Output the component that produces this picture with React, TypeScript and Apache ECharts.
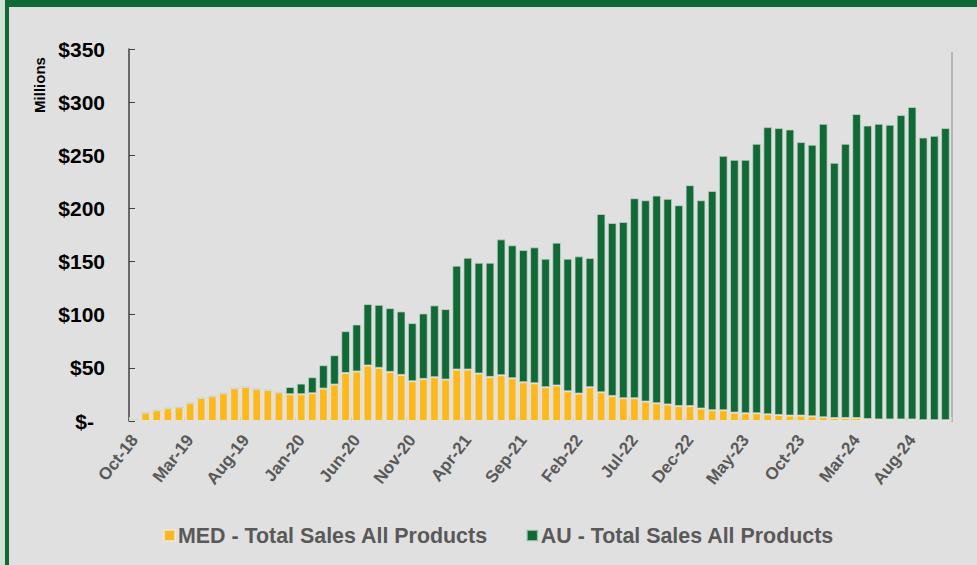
import React, { useEffect, useRef } from "react";
import * as echarts from "echarts";

const months: string[] = [
  "Oct-18", "Nov-18", "Dec-18",
  "Jan-19", "Feb-19", "Mar-19", "Apr-19", "May-19", "Jun-19", "Jul-19", "Aug-19", "Sep-19", "Oct-19", "Nov-19", "Dec-19",
  "Jan-20", "Feb-20", "Mar-20", "Apr-20", "May-20", "Jun-20", "Jul-20", "Aug-20", "Sep-20", "Oct-20", "Nov-20", "Dec-20",
  "Jan-21", "Feb-21", "Mar-21", "Apr-21", "May-21", "Jun-21", "Jul-21", "Aug-21", "Sep-21", "Oct-21", "Nov-21", "Dec-21",
  "Jan-22", "Feb-22", "Mar-22", "Apr-22", "May-22", "Jun-22", "Jul-22", "Aug-22", "Sep-22", "Oct-22", "Nov-22", "Dec-22",
  "Jan-23", "Feb-23", "Mar-23", "Apr-23", "May-23", "Jun-23", "Jul-23", "Aug-23", "Sep-23", "Oct-23", "Nov-23", "Dec-23",
  "Jan-24", "Feb-24", "Mar-24", "Apr-24", "May-24", "Jun-24", "Jul-24", "Aug-24", "Sep-24", "Oct-24", "Nov-24",
];

// MED - Total Sales All Products (millions)
const medSales: number[] = [
  1.2, 7.9, 10.1, 12.0, 12.9, 17.0, 21.7, 23.3, 26.1, 30.8, 32.0, 30.2, 29.2, 27.0, 25.2,
  25.2, 26.1, 30.5, 34.3, 45.2, 46.6, 52.2, 50.0, 46.2, 43.4, 37.4, 39.6,
  41.2, 39.0, 48.4, 48.4, 44.7, 41.5, 43.1, 40.2, 36.5, 35.5, 31.8, 33.4,
  28.0, 25.8, 31.8, 27.0, 23.6, 21.4, 21.4, 18.3, 16.7, 15.5, 14.0, 14.0,
  11.7, 10.1, 10.1, 7.9, 7.3, 7.3, 6.3, 5.7, 5.1, 5.1, 4.4, 3.5,
  2.8, 2.8, 2.8, 1.9, 1.5, 1.5, 1.5, 1.5, 0.8, 0.8, 0.8,
];

// AU - Total Sales All Products (millions)
const auSales: number[] = [
  0, 0, 0, 0, 0, 0, 0, 0, 0, 0, 0, 0, 0, 0, 6.8,
  10.0, 15.1, 22.0, 27.6, 39.3, 44.2, 57.8, 59.3, 60.0, 59.7, 54.7, 61.6,
  67.6, 66.3, 97.7, 105.2, 104.2, 107.4, 127.8, 125.1, 124.4, 127.9, 120.9, 134.4,
  124.7, 129.1, 121.5, 167.8, 162.7, 165.9, 188.2, 189.4, 195.4, 193.5, 189.0, 207.9,
  196.0, 206.4, 239.4, 237.8, 238.4, 253.5, 270.2, 269.9, 269.2, 257.3, 255.5, 276.1,
  240.1, 258.0, 286.0, 276.1, 278.1, 277.2, 286.3, 293.9, 265.9, 267.5, 274.8,
];

const seriesNames: string[] = ["MED - Total Sales All Products", "AU - Total Sales All Products"];
const yTicks = { min: 0, max: 350, interval: 50 };

const FONT = '"Liberation Sans", Arial, Helvetica, sans-serif';
const GREEN = "#116936";
const YELLOW = "#fdb81e";

export default function App() {
  const ref = useRef<HTMLDivElement>(null);

  useEffect(() => {
    document.body.style.margin = "0";
    if (!ref.current) return;
    const chart = echarts.init(ref.current, null, { renderer: "svg" });
    const yLabelText = { fontFamily: FONT, fontSize: 21, fontWeight: "bold" as const, color: "#000" };
    chart.setOption({
      animation: false,
      backgroundColor: "#e0e0e0",
      textStyle: { fontFamily: FONT },
      grid: { left: 129, right: 26, top: 49, bottom: 144 },
      legend: {
        left: 158,
        top: 520,
        itemWidth: 11,
        itemHeight: 11,
        itemGap: 38,
        icon: "rect",
        textStyle: { fontFamily: FONT, fontSize: 21.4, fontWeight: "bold", color: "#595959", padding: [0, 0, 0, -2] },
        data: seriesNames,
      },
      graphic: [
        { type: "rect", left: 0, top: 0, shape: { width: 977, height: 7 }, style: { fill: GREEN }, silent: true },
        { type: "rect", left: 0, top: 0, shape: { width: 5, height: 565 }, style: { fill: "#cfe2d5" }, silent: true },
        { type: "rect", left: 5, top: 7, shape: { width: 4, height: 558 }, style: { fill: GREEN }, silent: true },
        {
          type: "line",
          shape: { x1: 952, y1: 52, x2: 952, y2: 422 },
          style: { stroke: "#a8a8a8", lineWidth: 1.5 },
          silent: true,
        },
        {
          type: "text",
          x: 39,
          y: 85,
          rotation: Math.PI / 2,
          style: {
            text: "Millions",
            font: `bold 15px ${FONT}`,
            fill: "#000",
            align: "center",
            verticalAlign: "middle",
          },
          silent: true,
        },
      ],
      xAxis: {
        type: "category",
        data: months,
        boundaryGap: true,
        axisLine: {
          show: true,
          lineStyle: { color: "#8a8a8a", width: 3, shadowColor: "rgba(0,0,0,0.35)", shadowBlur: 3, shadowOffsetY: 2 },
        },
        axisTick: { show: true, interval: 4, inside: true, length: 4, lineStyle: { color: "#d0d0d0", width: 1 } },
        axisLabel: {
          interval: 4,
          rotate: 52,
          margin: 16,
          fontFamily: FONT,
          fontSize: 17,
          fontWeight: "bold",
          color: "#595959",
        },
        splitLine: { show: false },
        z: 10,
      },
      yAxis: {
        type: "value",
        min: yTicks.min,
        max: yTicks.max,
        interval: yTicks.interval,
        axisLine: { show: true, lineStyle: { color: "#404040", width: 1.5 } },
        axisTick: { show: true, inside: true, length: 6, lineStyle: { color: "#404040", width: 1 } },
        axisLabel: {
          margin: 24,
          ...yLabelText,
          formatter: (v: number) => (v === 0 ? "{z|$-}" : "{n|$" + v + "}"),
          rich: {
            z: { ...yLabelText, padding: [0, 11, 0, 0] },
            n: { ...yLabelText },
          },
        },
        splitLine: { show: false },
      },
      series: [
        {
          name: seriesNames[0],
          type: "bar",
          stack: "total",
          data: medSales,
          barCategoryGap: "22%",
          itemStyle: { color: YELLOW, borderColor: "rgba(235,235,225,0.7)", borderWidth: 1 },
        },
        {
          name: seriesNames[1],
          type: "bar",
          stack: "total",
          data: auSales,
          barCategoryGap: "22%",
          itemStyle: { color: GREEN, borderColor: "rgba(200,215,205,0.7)", borderWidth: 1 },
        },
      ],
    });
    return () => chart.dispose();
  }, []);

  return <div ref={ref} style={{ width: 977, height: 565 }} />;
}
